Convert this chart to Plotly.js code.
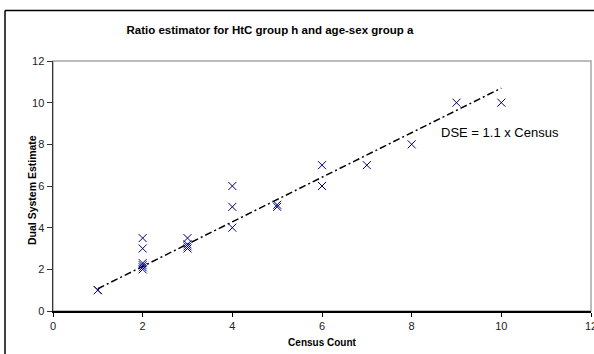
<!DOCTYPE html>
<html>
<head>
<meta charset="utf-8">
<script src="https://cdn.plot.ly/plotly-3.0.1.min.js"></script>
<style>
html,body{margin:0;padding:0;background:#fff;}
#chart{width:594px;height:354px;}
</style>
</head>
<body>
<div id="chart"></div>
<script>
// Data
var censusCount = [1, 1, 2, 2, 2, 2, 2, 2, 3, 3, 3, 3, 4, 4, 4, 5, 5, 6, 6, 7, 8, 9, 10];
var dualSystemEstimate = [1, 1, 3.5, 3, 2.3, 2.2, 2.1, 2, 3.5, 3.2, 3.1, 3, 6, 5, 4, 5.1, 5, 7, 6, 7, 8, 10, 10];
var fitLineX = [1, 10];
var fitLineY = [1.07, 10.7];
var xTickVals = [0, 2, 4, 6, 8, 10, 12];
var yTickVals = [0, 2, 4, 6, 8, 10, 12];
var fitLabel = "DSE = 1.1 x Census";
var fitLabelPos = [8.62, 8.55];
var yTitle = "Dual System Estimate";

var font = "Arial, 'Liberation Sans', sans-serif";

var traces = [
  {
    x: fitLineX, y: fitLineY, mode: "lines", type: "scatter",
    line: {color: "#000000", width: 1.5, dash: "7px,3px,2px,3px"},
    hoverinfo: "skip", showlegend: false
  },
  {
    x: censusCount, y: dualSystemEstimate, mode: "markers", type: "scatter",
    marker: {symbol: "x-thin-open", size: 8, color: "#000080", line: {color: "#000080", width: 1}},
    showlegend: false
  }
];

var layout = {
  width: 594, height: 354,
  margin: {l: 53, r: 3, t: 61, b: 43},
  paper_bgcolor: "#ffffff", plot_bgcolor: "#ffffff",
  font: {family: font, color: "#000000"},
  title: {
    text: "<b>Ratio estimator for HtC group h and age-sex group a</b>",
    font: {size: 11.5, family: font, color: "#000000"},
    xref: "container", yref: "container", x: 0.4545, y: 1 - 30/354,
    xanchor: "center", yanchor: "middle"
  },
  xaxis: {
    range: [0, 12], tickvals: xTickVals, ticks: "outside", ticklen: 4, tickwidth: 1, tickcolor: "#000",
    showgrid: false, zeroline: false, showline: true, linecolor: "#000000", linewidth: 1.5,
    ticklabeloverflow: "allow",
    tickfont: {size: 11, family: font, color: "#222"},
    title: {text: "<b>Census Count</b>", font: {size: 10, family: font, color: "#000"}, standoff: 8}
  },
  yaxis: {
    range: [0, 12], tickvals: yTickVals, ticks: "outside", ticklen: 5, tickwidth: 1, tickcolor: "#333",
    showgrid: false, zeroline: false, showline: true, linecolor: "#333333", linewidth: 1.5,
    tickfont: {size: 11, family: font, color: "#222"}
  },
  shapes: [
    {type: "rect", xref: "paper", yref: "paper", x0: 0, x1: 1, y0: 0, y1: 1,
     line: {color: "#a6a6a6", width: 1.5}, layer: "below"},
    {type: "line", xref: "paper", yref: "paper", x0: -0.0892, x1: -0.0892, y0: -0.3, y1: 1.202,
     line: {color: "#000000", width: 1.5}},
    {type: "line", xref: "paper", yref: "paper", x0: -0.0892, x1: 1.2, y0: 1.202, y1: 1.202,
     line: {color: "#000000", width: 1.5}}
  ],
  annotations: [
    {x: fitLabelPos[0], y: fitLabelPos[1], xref: "x", yref: "y", text: fitLabel,
     showarrow: false, xanchor: "left", yanchor: "middle",
     font: {size: 13, family: font, color: "#000"}},
    {x: -0.039, y: 0.484, xref: "paper", yref: "paper", text: "<b>" + yTitle + "</b>",
     showarrow: false, textangle: -90, xanchor: "center", yanchor: "middle",
     font: {size: 10.5, family: font, color: "#000"}}
  ]
};

Plotly.newPlot("chart", traces, layout, {displayModeBar: false, staticPlot: true});
</script>
</body>
</html>
